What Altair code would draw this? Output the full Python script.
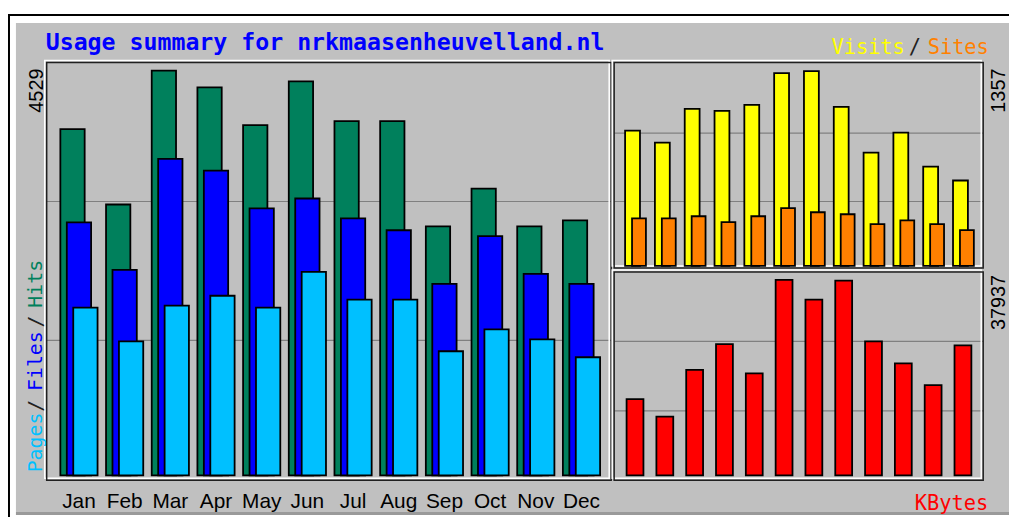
import altair as alt
import pandas as pd

# ---------------- data ----------------
months = ["Jan", "Feb", "Mar", "Apr", "May", "Jun", "Jul", "Aug", "Sep", "Oct", "Nov", "Dec"]
hits   = [3874, 3030, 4529, 4340, 3918, 4407, 3963, 3963, 2786, 3208, 2786, 2853]
files  = [2831, 2298, 3541, 3408, 2986, 3097, 2875, 2742, 2142, 2675, 2253, 2142]
pages  = [1876, 1499, 1898, 2009, 1876, 2276, 1965, 1965, 1388, 1632, 1521, 1321]
visits = [942, 858, 1094, 1080, 1122, 1343, 1357, 1108, 789, 928, 692, 595]
sites  = [332, 332, 346, 305, 346, 402, 374, 360, 291, 318, 291, 249]
kbytes = [14776, 11381, 20470, 25478, 19778, 37937, 34080, 37800, 25978, 21736, 17493, 25207]

title_text = "Usage summary for nrkmaasenheuvelland.nl"

df = pd.DataFrame({"month": months, "hits": hits, "files": files, "pages": pages,
                   "visits": visits, "sites": sites, "kbytes": kbytes})
one = pd.DataFrame({"k": [0]})

# ---------------- layout ----------------
W, H = 1009, 509
GRAY = "#C0C0C0"
DARK = "#202020"
MONO = "DejaVu Sans Mono"
SANS = "Liberation Sans"

L = dict(x0=39, x1=608, y0=53, y1=474)
TR = dict(x0=611, x1=983, y0=53, y1=260)
BR = dict(x0=611, x1=983, y0=264, y1=474)


def band(rng):
    return alt.Scale(domain=months, range=rng, paddingInner=0, paddingOuter=0)


def lin(vmax, rng):
    return alt.Scale(domain=[0, vmax], range=rng, nice=False, zero=True)


def rect(x0, y0, x1, y1, **kw):
    return alt.Chart(one).mark_rect(**kw).encode(
        x=alt.value(x0), x2=alt.value(x1), y=alt.value(y0), y2=alt.value(y1))


def hrule(x0, x1, y, color="#808080", width=1.2):
    return alt.Chart(one).mark_rule(color=color, strokeWidth=width).encode(
        x=alt.value(x0), x2=alt.value(x1), y=alt.value(y))


def label(text, x, y, color, font=MONO, size=20, weight="normal", angle=0, align="left",
          baseline="alphabetic"):
    return alt.Chart(one).mark_text(text=text, font=font, fontSize=size, fontWeight=weight,
                                    color=color, angle=angle, align=align,
                                    baseline=baseline).encode(x=alt.value(x), y=alt.value(y))


def bars(field, color, size, offset, xs, ys):
    return alt.Chart(df).mark_bar(fill=color, size=size, xOffset=offset, stroke="#000000",
                                  strokeWidth=1.8).encode(
        x=alt.X("month:N", scale=xs, axis=None, sort=months),
        y=alt.Y(f"{field}:Q", scale=ys, axis=None),
    )


def panel(p):
    return [
        rect(p["x0"] - 2, p["y0"] - 2, p["x1"] - 2, p["y1"] - 2, fillOpacity=0,
             stroke="#FFFFFF", strokeWidth=1.5),
        rect(p["x0"], p["y0"], p["x1"], p["y1"], fillOpacity=0, stroke=DARK, strokeWidth=1.5),
    ]


xL = band([48.5, 601.1])
xR = band([617.5, 978.1])
yL = lin(max(hits), [469, 61])
yV = lin(max(visits), [258, 61.5])
yK = lin(max(kbytes), [469, 272])

layers = [
    # page frame and gray card
    rect(1, 5, W + 20, H + 20, fillOpacity=0, stroke="#000000", strokeWidth=2),
    rect(8, 13, W, 506, fill=GRAY),
    rect(8, 506, W, 509, fill="#9A9A9A"),
    # grid lines
    hrule(L["x0"], L["x1"], 193), hrule(L["x0"], L["x1"], 333),
    hrule(TR["x0"], TR["x1"], 124), hrule(TR["x0"], TR["x1"], 193),
    hrule(BR["x0"], BR["x1"], 334), hrule(BR["x0"], BR["x1"], 404),
]
layers += panel(L) + panel(TR) + panel(BR)
layers += [
    bars("hits", "#00805C", 24.5, -6.5, xL, yL),
    bars("files", "#0000FF", 24.5, 0, xL, yL),
    bars("pages", "#00C0FF", 24.5, 6.5, xL, yL),
    bars("visits", "#FFFF00", 15, -3, xR, yV),
    bars("sites", "#FF8000", 14, 3.5, xR, yV),
    bars("kbytes", "#FF0000", 17, -0.5, xR, yK),
    # month labels
    alt.Chart(df).mark_text(font=SANS, fontSize=21, color="#000000", baseline="alphabetic").encode(
        x=alt.X("month:N", scale=xL, axis=None, sort=months), y=alt.value(502), text="month:N"),
    # title and legends
    label(title_text, 38, 40, "#0000FF", size=23.4, weight="bold"),
    label("Visits", 830, 44, "#FFFF00", size=20.5),
    label("/", 908, 44, DARK, size=20.5),
    label("Sites", 927, 44, "#FF8000", size=20.5),
    label("KBytes", 988, 504, "#FF0000", size=20.5, align="right"),
    label("Pages", 34, 466, "#00C0FF", angle=270),
    label("/", 34, 405, DARK, angle=270),
    label("Files", 34, 384, "#0000FF", angle=270),
    label("/", 34, 320, DARK, angle=270),
    label("Hits", 34, 300, "#00805C", angle=270),
    label(str(max(hits)), 35, 59, "#000000", font=SANS, angle=270, align="right"),
    label(str(max(visits)), 1005, 59, "#000000", font=SANS, angle=270, align="right"),
    label(str(max(kbytes)), 1005, 267, "#000000", font=SANS, angle=270, align="right"),
]

chart = alt.layer(*layers).resolve_scale(x="independent", y="independent").properties(
    width=W, height=H, background="#FFFFFF", padding=0, autosize="none"
).configure_view(strokeWidth=0)

chart.save("out.html", embed_options={"renderer": "svg", "actions": False})
